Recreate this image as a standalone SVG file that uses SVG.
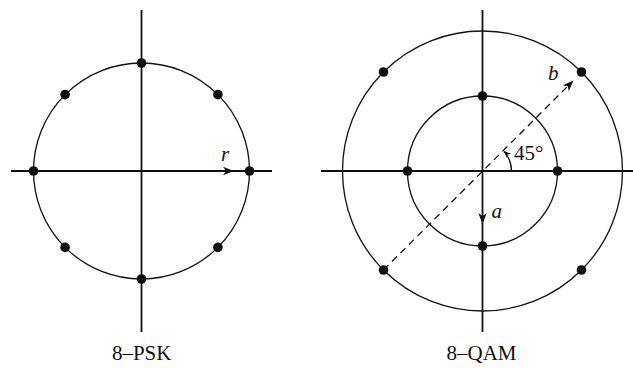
<svg xmlns="http://www.w3.org/2000/svg" width="633" height="369" viewBox="0 0 633 369">
<style>
.axis{stroke:#111;stroke-width:1.8;fill:none}
.circ{stroke:#111;stroke-width:1.3;fill:none}
.dash{stroke:#111;stroke-width:1.3;fill:none;stroke-dasharray:7 5}
.dot{fill:#111}
.lbl{font-family:"Liberation Serif","Times New Roman",serif;font-size:21px;fill:#111}
.it{font-style:italic}
</style>
<defs>
<path id="ah" d="M0,0 L-11,-4.2 L-8,0 L-11,4.2 Z" fill="#111"/>
<path id="ahs" d="M0,0 L-7,-3 L-5,0 L-7,3 Z" fill="#111"/>
</defs>
<rect width="633" height="369" fill="#fff"/>
<g id="psk">
<g id="psk-axes">
<line class="axis" x1="11" y1="171" x2="272" y2="171"/>
<line class="axis" x1="141.5" y1="10" x2="141.5" y2="332"/>
</g>
<circle id="psk-circle" class="circ" cx="141.5" cy="171" r="108"/>
<g id="psk-points">
<circle class="dot" cx="141.5" cy="63" r="4.8"/>
<circle class="dot" cx="217.9" cy="94.6" r="4.8"/>
<circle class="dot" cx="249.5" cy="171" r="4.8"/>
<circle class="dot" cx="217.9" cy="247.4" r="4.8"/>
<circle class="dot" cx="141.5" cy="279" r="4.8"/>
<circle class="dot" cx="65.1" cy="247.4" r="4.8"/>
<circle class="dot" cx="33.5" cy="171" r="4.8"/>
<circle class="dot" cx="65.1" cy="94.6" r="4.8"/>
</g>
<text id="psk-label" class="lbl" x="141.7" y="359.5" text-anchor="middle">8–PSK</text>
</g>
<g id="qam">
<g id="qam-axes">
<line class="axis" x1="321" y1="171" x2="633" y2="171"/>
<line class="axis" x1="482.5" y1="10" x2="482.5" y2="332"/>
</g>
<circle id="qam-outer" class="circ" cx="482.5" cy="171" r="140"/>
<circle id="qam-inner" class="circ" cx="482.5" cy="171" r="75"/>
<g id="qam-points">
<circle class="dot" cx="482.5" cy="96" r="4.8"/>
<circle class="dot" cx="557.5" cy="171" r="4.8"/>
<circle class="dot" cx="482.5" cy="246" r="4.8"/>
<circle class="dot" cx="407.5" cy="171" r="4.8"/>
<circle class="dot" cx="581.5" cy="72" r="4.8"/>
<circle class="dot" cx="581.5" cy="270" r="4.8"/>
<circle class="dot" cx="383.5" cy="270" r="4.8"/>
<circle class="dot" cx="383.5" cy="72" r="4.8"/>
</g>
<text id="qam-label" class="lbl" x="481.5" y="359.5" text-anchor="middle">8–QAM</text>
</g>
<g id="connectors">
<use href="#ah" transform="translate(234,171)"/>
<line class="dash" x1="383.5" y1="270" x2="568" y2="86"/>
<use href="#ah" transform="translate(573.5,80.5) rotate(-45)"/>
<use href="#ah" transform="translate(482.5,224) rotate(90)"/>
<path class="circ" d="M511.5,171 A29,29 0 0 0 504,151.5"/>
<use href="#ahs" transform="translate(504,151) rotate(-135)"/>
</g>
<g id="labels">
<text class="lbl it" x="221" y="161">r</text>
<text class="lbl it" x="491.5" y="218">a</text>
<text class="lbl it" x="548" y="80">b</text>
<text class="lbl" x="514" y="159.5">45°</text>
</g>
</svg>
